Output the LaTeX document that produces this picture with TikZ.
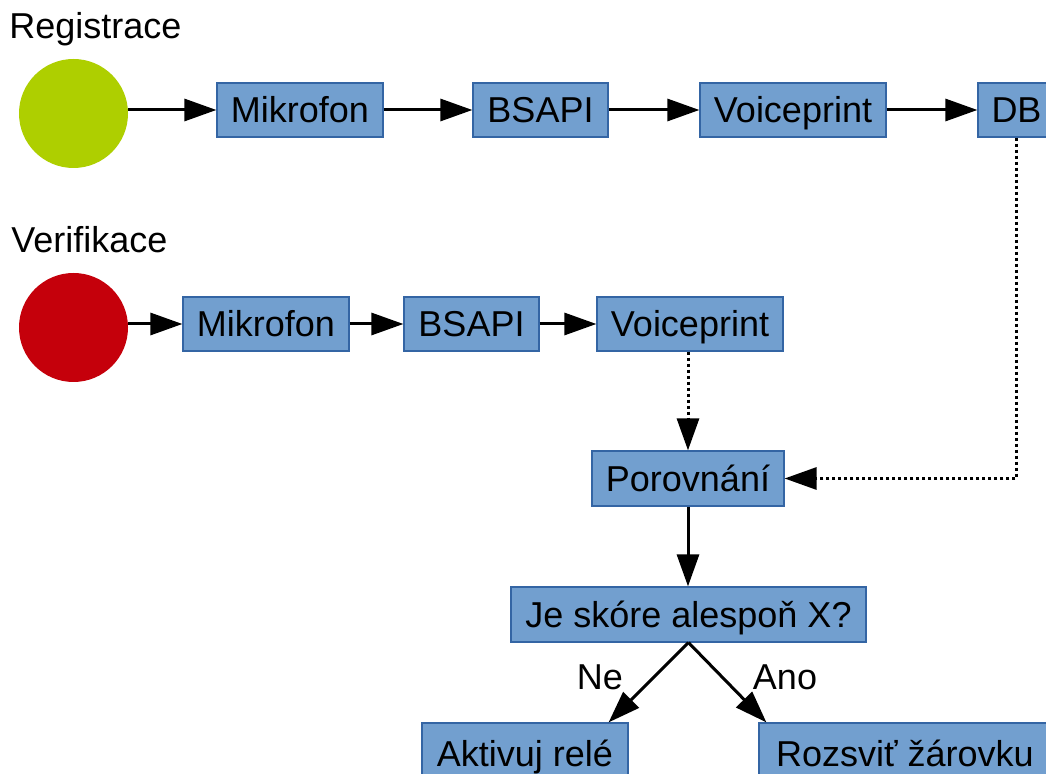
\documentclass[tikz,border=0pt]{standalone}
\usepackage{fontspec}
\setmainfont{Liberation Sans}
\usetikzlibrary{arrows.meta}
\definecolor{boxfill}{HTML}{729FCF}
\definecolor{boxline}{HTML}{3465A4}
\definecolor{startgreen}{HTML}{AECF00}
\definecolor{startred}{HTML}{C5000B}
\tikzset{
  stepbox/.style={draw=boxline, line width=0.6pt, fill=boxfill, inner sep=0pt,
    minimum height=27pt, text height=12.9pt, text depth=0pt,
    font=\fontsize{18}{21.6}\selectfont},
  startdot/.style={circle, inner sep=0pt, minimum size=54.5pt},
  arr/.style={line width=1.5pt, -{Triangle[length=16pt,width=11pt]}},
  dotarr/.style={line width=1.5pt, dash pattern=on 1.5pt off 1.5pt,
    -{Triangle[length=16pt,width=11pt]}},
  title/.style={anchor=base west, inner sep=0pt, font=\fontsize{18}{21.6}\selectfont},
  lbl/.style={anchor=base, inner sep=0pt, font=\fontsize{18}{21.6}\selectfont}
}
\begin{document}
\begin{tikzpicture}[x=0.5pt,y=-0.5pt]
\clip (0,0) rectangle (1046,774);
\fill[white] (0,0) rectangle (1046,774);
% titles
\node[title] (treg) at (9,39) {Registrace};
\node[title] (tver) at (11,253) {Verifikace};
% start circles
\node[startdot, fill=startgreen] (c1) at (73.5,113.5) {};
\node[startdot, fill=startred] (c2) at (73.5,327.5) {};
% row 1
\node[stepbox, minimum width=83pt] (m1) at (300,110) {Mikrofon};
\node[stepbox, minimum width=67.5pt] (b1) at (540.5,110) {BSAPI};
\node[stepbox, minimum width=93pt] (v1) at (793,110) {Voiceprint};
\node[stepbox, minimum width=38.5pt] (db) at (1016.5,110) {DB};
% row 2
\node[stepbox, minimum width=83pt] (m2) at (266,324) {Mikrofon};
\node[stepbox, minimum width=67.5pt] (b2) at (471.5,324) {BSAPI};
\node[stepbox, minimum width=93pt] (v2) at (690,324) {Voiceprint};
% lower part
\node[stepbox, minimum width=96pt, minimum height=27.5pt] (por) at (688,478.5) {Porovnání};
\node[stepbox, minimum width=177.5pt, minimum height=27.5pt] (je) at (688.5,614.5) {Je skóre alespoň X?};
\node[stepbox, minimum width=103pt, minimum height=30.5pt] (akt) at (525,753.5) {Aktivuj relé};
\node[stepbox, minimum width=146pt, minimum height=30.5pt] (roz) at (905,753.5) {Rozsviť žárovku};
% connectors row 1
\draw[arr] (c1.east |- m1.west) -- (m1.west);
\draw[arr] (m1) -- (b1);
\draw[arr] (b1) -- (v1);
\draw[arr] (v1) -- (db);
% connectors row 2
\draw[arr] (c2.east |- m2.west) -- (m2.west);
\draw[arr] (m2) -- (b2);
\draw[arr] (b2) -- (v2);
% dotted
\draw[dotarr] (v2.south -| por.north) -- (por.north);
\draw[dotarr] (db.south) |- (por.east);
% decision
\draw[arr] (por.south) -- (por.south |- je.north);
\draw[arr] (je.south) -- ([xshift=-10pt]akt.north east);
\draw[arr] (je.south) -- ([xshift=4pt]roz.north west);
\node[lbl] (ne) at (600,690) {Ne};
\node[lbl] (ano) at (785,690) {Ano};
\end{tikzpicture}
\end{document}
